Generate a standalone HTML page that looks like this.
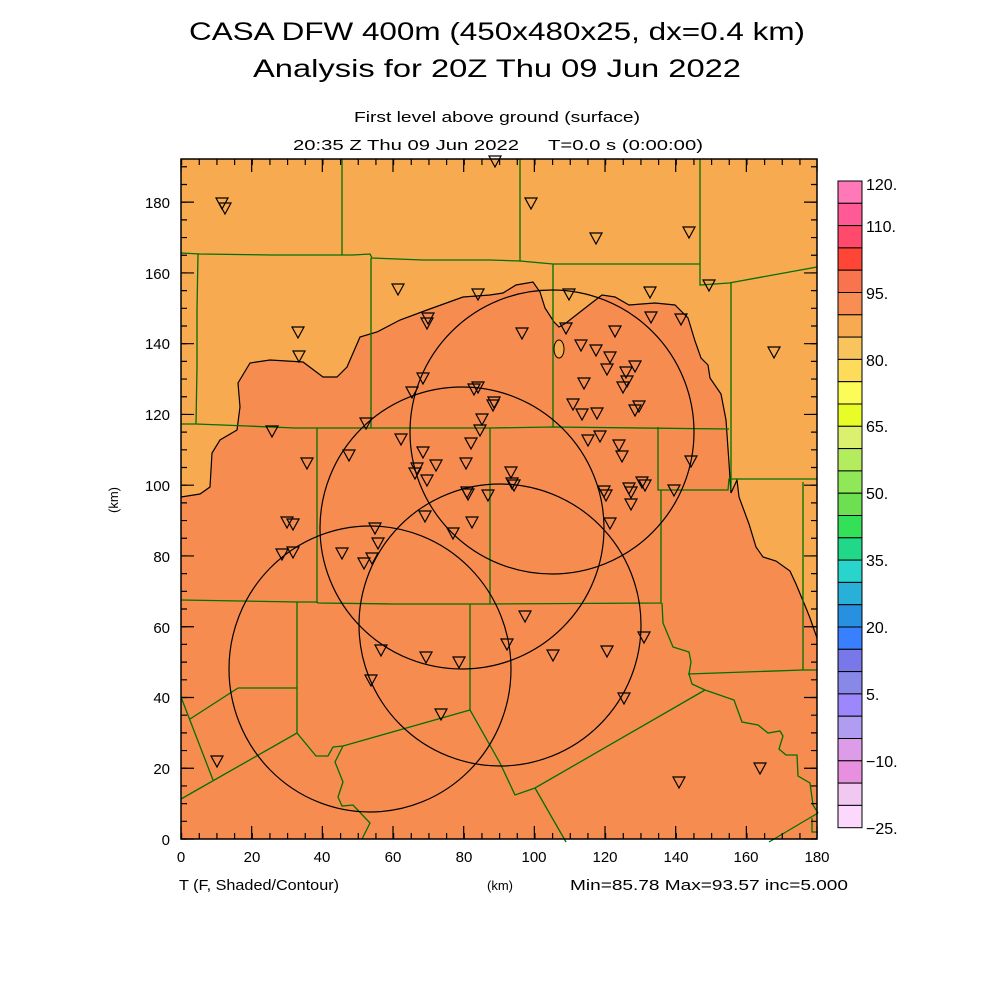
<!DOCTYPE html>
<html><head><meta charset="utf-8"><style>
html,body{margin:0;padding:0;background:#fff;}
svg{display:block;font-family:"Liberation Sans",sans-serif;}
text{white-space:pre;}
</style></head><body>
<svg width="1000" height="1000" viewBox="0 0 1000 1000" xmlns="http://www.w3.org/2000/svg">
<defs><path id="t" d="M-6,-5 L6,-5 L0,6 Z" fill="none" stroke="#000" stroke-width="1.2"/></defs>
<rect width="1000" height="1000" fill="#fff"/>
<!-- titles -->
<text x="497" y="40" font-size="25" text-anchor="middle" textLength="616" lengthAdjust="spacingAndGlyphs">CASA DFW 400m (450x480x25, dx=0.4 km)</text>
<text x="497" y="77" font-size="25" text-anchor="middle" textLength="488" lengthAdjust="spacingAndGlyphs">Analysis for 20Z Thu 09 Jun 2022</text>
<text x="497" y="122" font-size="15" text-anchor="middle" textLength="286" lengthAdjust="spacingAndGlyphs">First level above ground (surface)</text>
<text x="293" y="150" font-size="15" textLength="226" lengthAdjust="spacingAndGlyphs">20:35 Z Thu 09 Jun 2022</text>
<text x="548" y="150" font-size="15" textLength="155" lengthAdjust="spacingAndGlyphs">T=0.0 s (0:00:00)</text>

<!-- plot -->
<rect x="181" y="159" width="636" height="680" fill="#f78c50"/>
<path fill="#f8aa50" d="M181,159 L817,159 L817,638 L810,618 L806,608 L796,584 L790,571 L776,561 L763,557 L756,547 L749,524 L739,497 L737,480 L731,493 L729,463 L726,420 L721,394 L710,378 L708,365 L701,358 L695,341 L688,318 L675,305 L655,303 L629,305 L615,297 L602,295 L589,305 L566,323 L559,327 L554,322 L545,308 L540,292 L533,282 L516,285 L503,293 L490,295 L463,297 L427,310 L400,320 L377,332 L360,337 L347,367 L337,377 L323,377 L303,362 L270,360 L250,363 L238,383 L240,407 L237,430 L220,440 L212,453 L210,487 L200,494 L181,497 Z"/>
<ellipse cx="559" cy="349" rx="5" ry="9" fill="#f8aa50" stroke="#000" stroke-width="1"/>
<path fill="none" stroke="#000" stroke-width="1.2" d="M817,638 L810,618 L806,608 L796,584 L790,571 L776,561 L763,557 L756,547 L749,524 L739,497 L737,480 L731,493 L729,463 L726,420 L721,394 L710,378 L708,365 L701,358 L695,341 L688,318 L675,305 L655,303 L629,305 L615,297 L602,295 L589,305 L566,323 L559,327 L554,322 L545,308 L540,292 L533,282 L516,285 L503,293 L490,295 L463,297 L427,310 L400,320 L377,332 L360,337 L347,367 L337,377 L323,377 L303,362 L270,360 L250,363 L238,383 L240,407 L237,430 L220,440 L212,453 L210,487 L200,494 L181,497"/>

<!-- county lines -->
<g fill="none" stroke="#007000" stroke-width="1.3">
<path d="M342,159 L342,255"/>
<path d="M181,253 L200,254 L272,255 L353,255 L370,254 L372,258 L423,260 L490,260 L520,261 L553,264 L700,264"/>
<path d="M520,159 L520,261"/>
<path d="M700,159 L700,285 L729,283 L817,267"/>
<path d="M731,283 L731,490"/>
<path d="M553,264 L553,427"/>
<path d="M181,424 L196,424 L222,425 L247,426 L295,428 L367,428 L490,428 L553,427 L729,429"/>
<path d="M658,427 L658,490 L728,490 L729,479 L817,479"/>
<path d="M803,482 L803,670"/>
<path d="M817,670 L803,670 L688,674"/>
<path d="M661,490 L661,603 L490,604"/>
<path d="M662,603 L663,623 L673,647 L689,652 L691,662 L689,674 L692,684 L705,690 L734,700 L742,722 L758,725 L768,733 L780,731 L783,736 L779,749 L786,755 L797,755 L798,776 L810,783 L813,805 L818,813"/>
<path d="M705,690 L535,788 L515,795 L500,763 L470,710 L470,604"/>
<path d="M535,788 L566,842"/>
<path d="M769,842 L818,813"/>
<path d="M812,818 L812,832 L818,832"/>
<path d="M317,428 L317,603"/>
<path d="M181,600 L240,601 L297,602 L317,602 L318,603 L395,604 L490,604"/>
<path d="M490,428 L490,604"/>
<path d="M297,602 L297,733"/>
<path d="M238,688 L297,688"/>
<path d="M238,688 L190,719"/>
<path d="M181,697 L213,780"/>
<path d="M181,799 L297,733 L316,756 L328,756 L333,747 L343,746 L470,710"/>
<path d="M343,746 L335,762 L343,782 L338,797 L342,806 L353,805 L370,823 L362,839"/>
<path d="M198,254 L197,310 L197,367 L196,424"/>
<path d="M371,258 L371,428"/>
</g>

<!-- circles -->
<g fill="none" stroke="#000" stroke-width="1.2">
<ellipse cx="370" cy="669" rx="141" ry="143"/>
<ellipse cx="462" cy="528" rx="142" ry="141"/>
<ellipse cx="552" cy="432" rx="142" ry="142"/>
<ellipse cx="500" cy="625" rx="141" ry="141"/>
</g>

<!-- stations -->
<g>
<use href="#t" x="495" y="161"/><use href="#t" x="531" y="203"/><use href="#t" x="596" y="238"/><use href="#t" x="689" y="232"/><use href="#t" x="709" y="285"/><use href="#t" x="650" y="292"/><use href="#t" x="569" y="294"/><use href="#t" x="566" y="328"/><use href="#t" x="522" y="333"/><use href="#t" x="615" y="331"/><use href="#t" x="651" y="317"/><use href="#t" x="681" y="319"/><use href="#t" x="581" y="345"/><use href="#t" x="596" y="350"/><use href="#t" x="610" y="357"/><use href="#t" x="607" y="369"/><use href="#t" x="635" y="366"/><use href="#t" x="626" y="372"/><use href="#t" x="627" y="381"/><use href="#t" x="623" y="387"/><use href="#t" x="584" y="383"/><use href="#t" x="573" y="404"/><use href="#t" x="582" y="414"/><use href="#t" x="597" y="413"/><use href="#t" x="635" y="410"/><use href="#t" x="639" y="406"/><use href="#t" x="494" y="402"/><use href="#t" x="588" y="440"/><use href="#t" x="600" y="436"/><use href="#t" x="619" y="445"/><use href="#t" x="622" y="456"/><use href="#t" x="691" y="461"/><use href="#t" x="511" y="472"/><use href="#t" x="512" y="483"/><use href="#t" x="642" y="482"/><use href="#t" x="629" y="488"/><use href="#t" x="604" y="491"/><use href="#t" x="674" y="490"/><use href="#t" x="774" y="352"/>
<use href="#t" x="222" y="203"/><use href="#t" x="225" y="208"/><use href="#t" x="398" y="289"/><use href="#t" x="298" y="332"/><use href="#t" x="299" y="356"/><use href="#t" x="478" y="294"/><use href="#t" x="428" y="318"/><use href="#t" x="427" y="323"/><use href="#t" x="423" y="378"/><use href="#t" x="412" y="392"/><use href="#t" x="474" y="389"/><use href="#t" x="478" y="387"/><use href="#t" x="493" y="405"/><use href="#t" x="482" y="419"/><use href="#t" x="480" y="430"/><use href="#t" x="471" y="443"/><use href="#t" x="466" y="463"/><use href="#t" x="436" y="465"/><use href="#t" x="423" y="452"/><use href="#t" x="417" y="468"/><use href="#t" x="415" y="473"/><use href="#t" x="427" y="480"/><use href="#t" x="401" y="439"/><use href="#t" x="366" y="423"/><use href="#t" x="349" y="455"/><use href="#t" x="307" y="463"/><use href="#t" x="272" y="431"/><use href="#t" x="467" y="492"/><use href="#t" x="468" y="494"/><use href="#t" x="488" y="495"/>
<use href="#t" x="287" y="522"/><use href="#t" x="293" y="524"/><use href="#t" x="282" y="554"/><use href="#t" x="293" y="552"/><use href="#t" x="375" y="528"/><use href="#t" x="378" y="543"/><use href="#t" x="342" y="553"/><use href="#t" x="364" y="563"/><use href="#t" x="372" y="558"/><use href="#t" x="425" y="516"/><use href="#t" x="453" y="533"/><use href="#t" x="472" y="522"/><use href="#t" x="381" y="650"/><use href="#t" x="426" y="657"/><use href="#t" x="459" y="662"/><use href="#t" x="371" y="680"/><use href="#t" x="441" y="714"/><use href="#t" x="217" y="761"/>
<use href="#t" x="514" y="485"/><use href="#t" x="606" y="495"/><use href="#t" x="631" y="492"/><use href="#t" x="645" y="485"/><use href="#t" x="631" y="504"/><use href="#t" x="610" y="523"/><use href="#t" x="525" y="616"/><use href="#t" x="507" y="644"/><use href="#t" x="644" y="637"/><use href="#t" x="553" y="655"/><use href="#t" x="607" y="651"/><use href="#t" x="624" y="698"/><use href="#t" x="679" y="782"/><use href="#t" x="760" y="768"/>
</g>

<!-- frame and ticks -->
<g fill="none" stroke="#000">
<rect x="181" y="159" width="636" height="680" stroke-width="1.5"/>
<line x1="181" y1="162" x2="817" y2="162" stroke-width="6" stroke-dasharray="1.2 16.467"/>
<line x1="181" y1="836" x2="817" y2="836" stroke-width="6" stroke-dasharray="1.2 16.467"/>
<line x1="180.4" y1="165.5" x2="818" y2="165.5" stroke-width="13" stroke-dasharray="1.2 69.47"/>
<line x1="180.4" y1="832.5" x2="818" y2="832.5" stroke-width="13" stroke-dasharray="1.2 69.47"/>
<line x1="184" y1="839.6" x2="184" y2="159" stroke-width="6" stroke-dasharray="1.2 16.49"/>
<line x1="814" y1="839.6" x2="814" y2="159" stroke-width="6" stroke-dasharray="1.2 16.49"/>
<line x1="187.5" y1="839.6" x2="187.5" y2="159" stroke-width="13" stroke-dasharray="1.2 69.56"/>
<line x1="810.5" y1="839.6" x2="810.5" y2="159" stroke-width="13" stroke-dasharray="1.2 69.56"/>
</g>

<!-- axis labels -->
<g font-size="15" text-anchor="end">
<text x="170" y="845">0</text><text x="170" y="774">20</text><text x="170" y="703">40</text><text x="170" y="633">60</text><text x="170" y="562">80</text><text x="170" y="491">100</text><text x="170" y="420">120</text><text x="170" y="349">140</text><text x="170" y="279">160</text><text x="170" y="208">180</text>
</g>
<g font-size="15" text-anchor="middle">
<text x="181" y="862">0</text><text x="252" y="862">20</text><text x="322" y="862">40</text><text x="393" y="862">60</text><text x="464" y="862">80</text><text x="534" y="862">100</text><text x="605" y="862">120</text><text x="676" y="862">140</text><text x="746" y="862">160</text><text x="817" y="862">180</text>
</g>
<text x="118" y="500" font-size="13" text-anchor="middle" transform="rotate(-90 118 500)">(km)</text>
<text x="179" y="890" font-size="15" textLength="160" lengthAdjust="spacingAndGlyphs">T (F, Shaded/Contour)</text>
<text x="487" y="890" font-size="13">(km)</text>
<text x="570" y="890" font-size="15" textLength="278" lengthAdjust="spacingAndGlyphs">Min=85.78 Max=93.57 inc=5.000</text>

<!-- colorbar -->
<g stroke="#000" stroke-width="1">
<rect x="838" y="181" width="24" height="22.3" fill="#ff78b8"/>
<rect x="838" y="203.3" width="24" height="22.3" fill="#ff5a96"/>
<rect x="838" y="225.6" width="24" height="22.3" fill="#ff4a6e"/>
<rect x="838" y="247.9" width="24" height="22.3" fill="#ff4636"/>
<rect x="838" y="270.2" width="24" height="22.3" fill="#f8744e"/>
<rect x="838" y="292.5" width="24" height="22.3" fill="#f88e54"/>
<rect x="838" y="314.8" width="24" height="22.3" fill="#f8aa50"/>
<rect x="838" y="337.1" width="24" height="22.3" fill="#f8c45e"/>
<rect x="838" y="359.4" width="24" height="22.3" fill="#fcdc5a"/>
<rect x="838" y="381.7" width="24" height="22.3" fill="#fcfc58"/>
<rect x="838" y="404" width="24" height="22.3" fill="#e8fc28"/>
<rect x="838" y="426.3" width="24" height="22.3" fill="#dcf070"/>
<rect x="838" y="448.6" width="24" height="22.3" fill="#b4ec60"/>
<rect x="838" y="470.9" width="24" height="22.3" fill="#90e858"/>
<rect x="838" y="493.2" width="24" height="22.3" fill="#6ce050"/>
<rect x="838" y="515.5" width="24" height="22.3" fill="#34e058"/>
<rect x="838" y="537.8" width="24" height="22.3" fill="#20d888"/>
<rect x="838" y="560.1" width="24" height="22.3" fill="#28d4cc"/>
<rect x="838" y="582.4" width="24" height="22.3" fill="#28b0d8"/>
<rect x="838" y="604.7" width="24" height="22.3" fill="#2890e0"/>
<rect x="838" y="627" width="24" height="22.3" fill="#3880ff"/>
<rect x="838" y="649.3" width="24" height="22.3" fill="#7878e8"/>
<rect x="838" y="671.6" width="24" height="22.3" fill="#8888e8"/>
<rect x="838" y="693.9" width="24" height="22.3" fill="#9c88fc"/>
<rect x="838" y="716.2" width="24" height="22.3" fill="#b09cf0"/>
<rect x="838" y="738.5" width="24" height="22.3" fill="#dc9ce8"/>
<rect x="838" y="760.8" width="24" height="22.3" fill="#e890e0"/>
<rect x="838" y="783.1" width="24" height="22.3" fill="#f0c8f0"/>
<rect x="838" y="805.4" width="24" height="22.3" fill="#fcd8fc"/>
</g>
<g font-size="16">
<text x="866" y="190">120.</text>
<text x="866" y="232">110.</text>
<text x="866" y="299">95.</text>
<text x="866" y="366">80.</text>
<text x="866" y="432">65.</text>
<text x="866" y="499">50.</text>
<text x="866" y="566">35.</text>
<text x="866" y="633">20.</text>
<text x="866" y="700">5.</text>
<text x="866" y="767">−10.</text>
<text x="866" y="834">−25.</text>
</g>
</svg>
</body></html>
